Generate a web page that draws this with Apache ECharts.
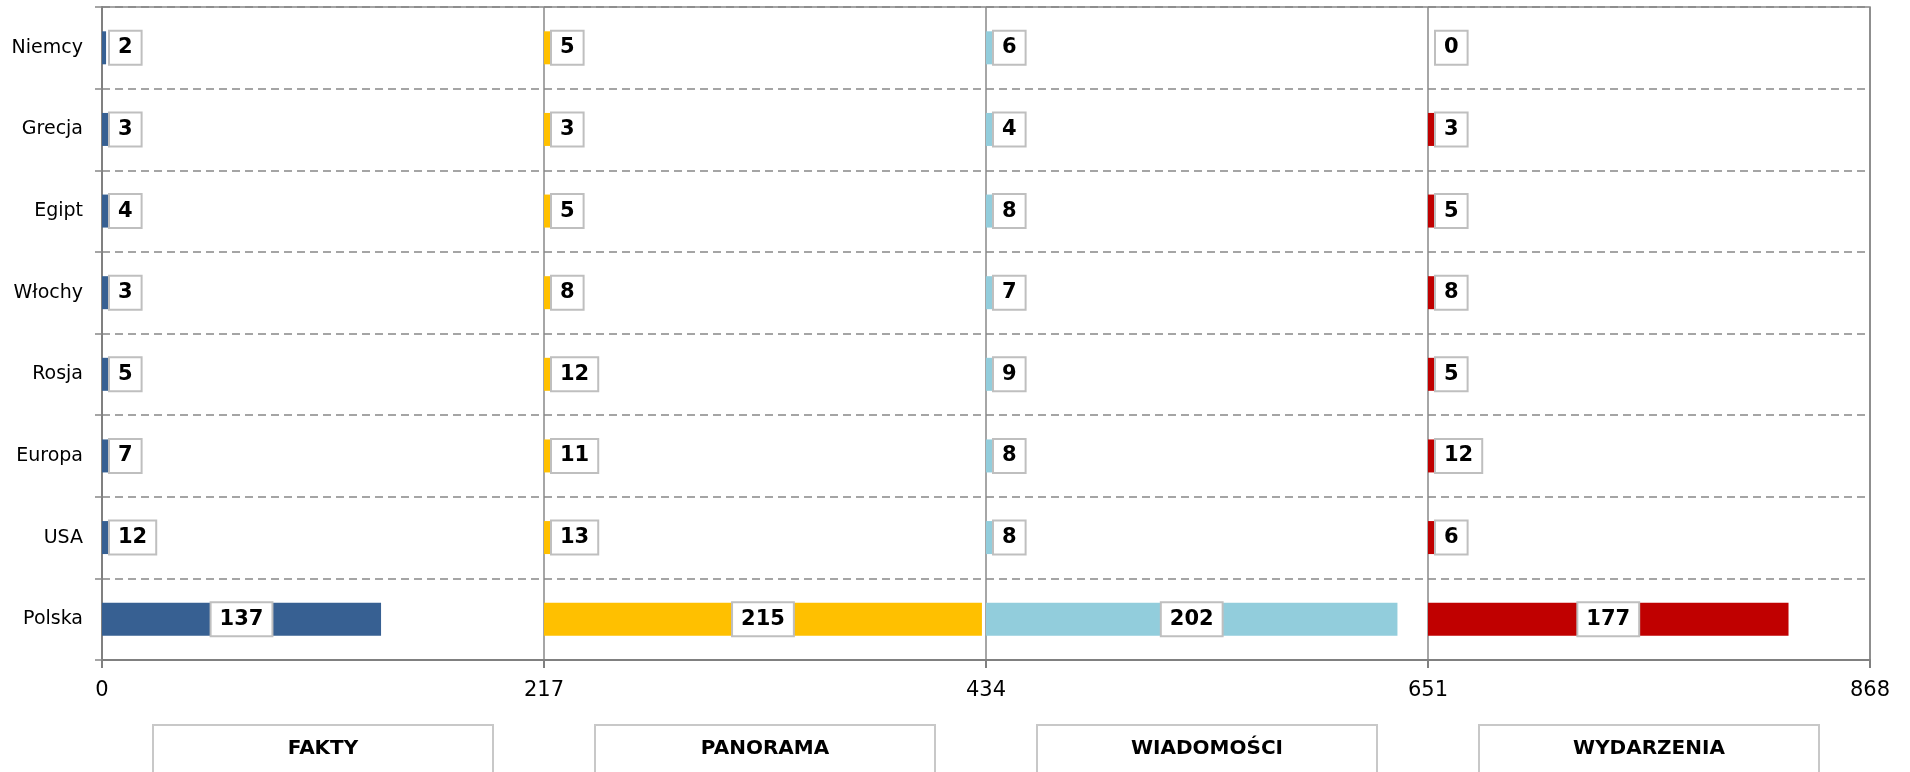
<!DOCTYPE html>
<html>
<head>
<meta charset="utf-8">
<script src="https://cdn.jsdelivr.net/npm/echarts@6/dist/echarts.min.js"></script>
<style>
html, body { margin: 0; padding: 0; background: #fff; }
#chart { width: 1910px; height: 772px; }
</style>
</head>
<body>
<div id="chart"></div>
<script>
// kategorie od gory do dolu
var categories = ['Niemcy', 'Grecja', 'Egipt', 'Włochy', 'Rosja', 'Europa', 'USA', 'Polska'];
var panels = ['FAKTY', 'PANORAMA', 'WIADOMOŚCI', 'WYDARZENIA'];
var xTicks = [0, 217, 434, 651, 868];

var fakty      = [2, 3, 4, 3, 5, 7, 12, 137];
var panorama   = [5, 3, 5, 8, 12, 11, 13, 215];
var wiadomosci = [6, 4, 8, 7, 9, 8, 8, 202];
var wydarzenia = [0, 3, 5, 8, 5, 12, 6, 177];

var colors = ['#376092', '#FFC000', '#92CDDC', '#C00000'];
var PANEL = 217;
var FONT = "'DejaVu Sans', sans-serif";

var myChart = echarts.init(document.getElementById('chart'));

function labelItems(vals) {
    // duza wartosc (Polska) - etykieta w srodku slupka
    return vals.map(function(v) {
        if (v > 50) {
            return {value: v, label: {position: 'inside'}};
        }
        return v;
    });
}

var series = [];
[fakty, panorama, wiadomosci, wydarzenia].forEach(function(vals, i) {
    if (i > 0) {
        series.push({
            type: 'bar',
            stack: 's' + i,
            barWidth: 33,
            barGap: '-100%',
            silent: true,
            itemStyle: {color: 'transparent'},
            emphasis: {disabled: true},
            data: categories.map(function() { return PANEL * i; })
        });
    }
    series.push({
        name: panels[i],
        type: 'bar',
        stack: 's' + i,
        barWidth: 33,
        barGap: '-100%',
        itemStyle: {color: colors[i]},
        label: {
            show: true,
            position: 'insideLeft',
            distance: 8,
            color: '#000',
            fontFamily: FONT,
            fontWeight: 'bold',
            fontSize: 21,
            lineHeight: 22,
            backgroundColor: '#fff',
            borderColor: '#bfbfbf',
            borderWidth: 2,
            padding: [6, 8, 4, 8]
        },
        labelLayout: {hideOverlap: false},
        data: labelItems(vals)
    });
});

myChart.setOption({
    animation: false,
    grid: {
        left: 102,
        right: 40,
        top: 7,
        bottom: 112,
        outerBoundsMode: 'none',
        containLabel: false,
        show: true,
        borderColor: '#888',
        borderWidth: 1.5
    },
    xAxis: [
        {
            type: 'value',
            min: 0,
            max: 868,
            interval: 217,
            axisLine: {show: true, lineStyle: {color: '#808080', width: 2}},
            axisTick: {show: true, length: 8, lineStyle: {color: '#808080', width: 2}},
            axisLabel: {
                margin: 20,
                color: '#000',
                fontFamily: FONT,
                fontSize: 21,
                formatter: function(v) { return xTicks.indexOf(v) >= 0 ? String(v) : ''; }
            },
            splitLine: {show: true, lineStyle: {color: '#888', width: 1.5}}
        },
        {
            type: 'category',
            position: 'bottom',
            offset: 0,
            data: panels,
            axisLine: {show: false},
            axisTick: {show: false},
            splitLine: {show: false},
            axisLabel: {
                margin: 66,
                color: '#000',
                fontFamily: FONT,
                fontWeight: 'bold',
                fontSize: 20,
                width: 338,
                lineHeight: 30,
                align: 'center',
                verticalAlign: 'top',
                backgroundColor: '#fff',
                borderColor: '#c8c8c8',
                borderWidth: 2,
                padding: [8, 0, 30, 0]
            }
        }
    ],
    yAxis: {
        type: 'category',
        inverse: true,
        data: categories,
        axisLine: {show: true, lineStyle: {color: '#808080', width: 2}},
        axisTick: {show: true, length: 7, lineStyle: {color: '#888', width: 1.5}},
        axisLabel: {
            margin: 19,
            color: '#000',
            fontFamily: FONT,
            fontSize: 19
        },
        splitLine: {show: true, lineStyle: {color: '#888', width: 1.5, type: [8, 5]}}
    },
    series: series
});
</script>
</body>
</html>
